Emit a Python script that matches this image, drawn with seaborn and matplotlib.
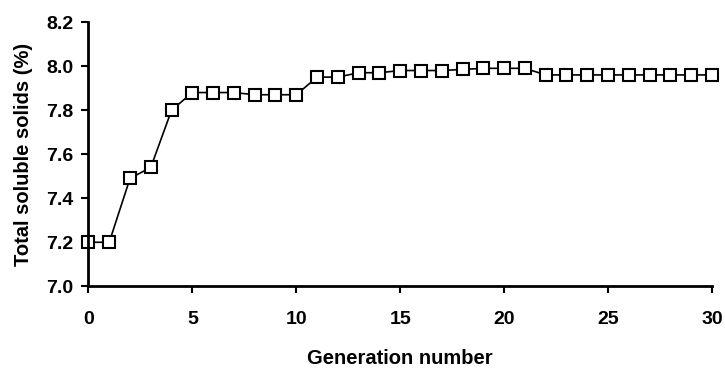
import matplotlib
matplotlib.use("Agg")
import matplotlib.pyplot as plt
import seaborn as sns
import pandas as pd

generation = list(range(31))
tss = [7.20, 7.20, 7.49, 7.54, 7.80, 7.88, 7.88, 7.88, 7.87, 7.87, 7.87,
       7.95, 7.95, 7.97, 7.97, 7.98, 7.98, 7.98, 7.985, 7.99, 7.99, 7.99,
       7.96, 7.96, 7.96, 7.96, 7.96, 7.96, 7.96, 7.96, 7.96]
x_ticks = [0, 5, 10, 15, 20, 25, 30]
y_ticks = [7.0, 7.2, 7.4, 7.6, 7.8, 8.0, 8.2]

sns.set_style("ticks")
plt.rcParams['font.family'] = ['Liberation Sans', 'DejaVu Sans']
plt.rcParams['text.color'] = 'black'
plt.rcParams['axes.labelcolor'] = 'black'

df = pd.DataFrame({"Generation number": generation, "TSS": tss})

fig = plt.figure(figsize=(7.25, 3.68), dpi=100)
ax = fig.add_axes([0.122, 0.222, 0.860, 0.718])
sns.lineplot(data=df, x="Generation number", y="TSS", ax=ax, color="black",
             linewidth=1.2, marker="s", markersize=8, markerfacecolor="white",
             markeredgecolor="black", markeredgewidth=1.5, clip_on=False)

ax.set_xlim(0, 30)
ax.set_ylim(7.0, 8.2)
ax.set_xticks(x_ticks)
ax.set_yticks(y_ticks)
ax.set_yticklabels([f"{v:.1f}" for v in y_ticks])
for s in ["top", "right"]:
    ax.spines[s].set_visible(False)
for s in ["left", "bottom"]:
    ax.spines[s].set_linewidth(2.0)
    ax.spines[s].set_color("black")
ax.tick_params(axis="both", direction="out", length=5, width=1.5, colors="black",
               labelcolor="black", labelsize=14)
ax.tick_params(axis="x", pad=13)
ax.tick_params(axis="y", pad=6)
for lab in ax.get_xticklabels() + ax.get_yticklabels():
    lab.set_fontweight("bold")
ax.set_xlabel("Generation number", fontsize=14.5, fontweight="bold", labelpad=15,
              color="black")
ax.set_ylabel("Total soluble solids (%)", fontsize=14.5, fontweight="bold", labelpad=9,
              color="black")

fig.savefig("out.png", dpi=100, facecolor="white")
